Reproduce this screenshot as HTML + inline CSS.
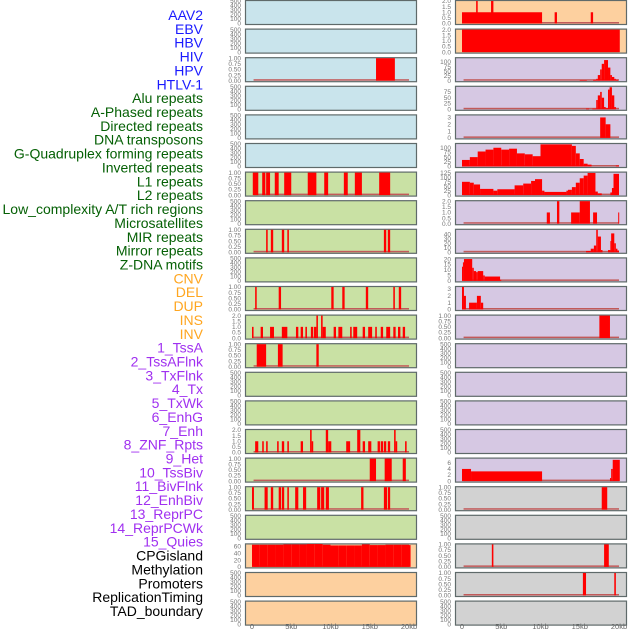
<!DOCTYPE html>
<html><head><meta charset="utf-8"><style>
html,body{margin:0;padding:0;background:#fff;width:630px;height:630px;overflow:hidden}
svg{display:block;font-family:"Liberation Sans",sans-serif}
</style></head><body>
<svg id="chart" width="630" height="630" viewBox="0 0 630 630"></svg>
<script>
const trackLabels=["AAV2","EBV","HBV","HIV","HPV","HTLV-1","Alu repeats","A-Phased repeats","Directed repeats","DNA transposons","G-Quadruplex forming repeats","Inverted repeats","L1 repeats","L2 repeats","Low_complexity A/T rich regions","Microsatellites","MIR repeats","Mirror repeats","Z-DNA motifs","CNV","DEL","DUP","INS","INV","1_TssA","2_TssAFlnk","3_TxFlnk","4_Tx","5_TxWk","6_EnhG","7_Enh","8_ZNF_Rpts","9_Het","10_TssBiv","11_BivFlnk","12_EnhBiv","13_ReprPC","14_ReprPCWk","15_Quies","CPGisland","Methylation","Promoters","ReplicationTiming","TAD_boundary"];
const labelGroups=[6,13,5,15,5];
const xTickValues=[0,5,10,15,20];
const xTickLabels=["0","5kb","10kb","15kb","20kb"];
const ticksEmpty=[0,100,200,300,400,500];
const ticksOne=[0,0.25,0.5,0.75,1];
const ticksTwo=[0,0.5,1,1.5,2];
// bars: [startKb,endKb,value]
const c1r2=[[15.8,18.2,1]];
const c1r6=[[0.1,0.8,1],[1.3,1.7,1],[1.8,2.3,1],[2.9,3.4,1],[4.1,5.0,1],[7.1,8.2,1],[9.2,9.7,1],[11.7,12.2,1],[13.1,14.0,1],[16.2,17.6,1]];
const c1r8=[[1.8,2.0,1],[2.4,2.7,1],[3.8,4.1,1],[4.5,4.7,1],[16.8,17.1,1],[17.3,17.6,1]];
const c1r10=[[0.4,0.6,1],[3.4,3.7,1],[10.1,10.4,1],[11.5,11.8,1],[14.5,14.8,1],[18.0,18.2,1],[18.7,19.0,1]];
const c1r11=[[0,0.2,1],[1.1,1.4,1],[2.3,2.8,1],[3.8,4.5,1],[5.6,5.9,1],[6.2,6.5,1],[6.8,7.0,1],[7.5,7.8,1],[7.9,8.2,1],[8.2,8.4,2],[8.8,9.0,2],[9.0,9.4,1],[10.4,10.7,1],[11.0,11.5,1],[12.5,12.7,1],[12.9,13.4,1],[14.1,14.4,1],[14.8,15.3,1],[15.7,15.9,1],[16.4,16.7,1],[17.1,17.6,1],[18.0,18.3,1],[18.6,18.9,1],[19.2,19.5,1]];
const c1r12=[[0.6,1.8,1],[3.3,3.9,1],[8.2,8.5,1]];
const c1r15=[[0.4,0.8,1],[1.3,1.5,1],[1.8,2.0,1],[3.2,3.4,1],[3.8,4.1,1],[4.5,4.7,1],[6.2,6.5,1],[7.4,7.6,2],[7.6,7.8,1],[9.4,9.7,2],[9.7,10.1,1],[12.0,12.5,1],[13.4,13.8,2],[14.1,14.4,1],[14.8,15.2,1],[16.0,16.3,1],[16.4,16.7,1],[16.8,17.1,1],[17.3,17.6,1],[18.1,18.3,2],[18.3,18.5,1],[19.5,19.7,1]];
const c1r16=[[15.0,15.8,1],[16.9,17.8,1],[19.2,19.6,1]];
const c1r17=[[0,0.25,1],[1.6,2.0,1],[2.4,2.7,1],[3.4,3.7,1],[3.8,4.1,1],[4.5,4.7,1],[5.5,5.9,1],[6.5,6.9,1],[8.3,8.7,1],[8.8,9.2,1],[9.4,9.8,1],[13.9,14.2,1],[16.8,17.2,1],[17.3,17.6,1]];
const c1r19=[[0,1,65],[1,2,65],[2,3,65],[3,4,65],[4,5,66],[5,6,66],[6,7,66],[7,8,67],[8,9,67],[9,10,65],[10,11,63],[11,12,63],[12,13,63],[13,14,63],[14,15,66],[15,16,64],[16,17,64],[17,18,65],[18,19,65],[19,20,65],[20,20.2,64]];
const c2r0=[[0,10.2,1],[1.8,2.0,2],[3.7,4.0,2],[11.8,12.1,1],[16.4,16.7,1]];
const c2r1=[[0,20.1,2]];
const c2r2=[[15.0,15.9,3],[16.7,17.1,5],[17.1,17.3,10],[17.3,17.6,30],[17.6,17.8,60],[17.8,18.1,90],[18.1,18.6,110],[18.6,18.9,70],[18.9,19.1,30],[19.1,19.4,20],[19.4,19.6,10],[19.6,19.9,5]];
const c2r3=[[15.8,16.2,3],[16.6,17.1,3],[17.1,17.3,40],[17.3,17.6,60],[17.6,17.8,75],[17.8,18.1,50],[18.1,18.3,10],[18.3,18.6,5],[18.6,18.8,85],[18.8,19.1,95],[19.1,19.4,60],[19.4,19.6,10]];
const c2r4=[[17.6,18.3,3],[18.3,18.9,2]];
const c2r5=[[0,1,35],[1,2,50],[2,3,80],[3,4,90],[4,5,100],[5,6,90],[6,7,95],[7,8,70],[8,9,65],[9,10,55],[10,14,118],[14,14.5,110],[14.5,15,70],[15,15.5,40],[15.5,16,15],[16,16.5,10],[19.6,20,5]];
const c2r6=[[0,1,75],[1,1.5,70],[1.5,2.3,60],[2.3,4.0,35],[4.0,4.5,25],[4.5,6.7,33],[6.7,7.8,55],[7.8,8.8,65],[8.8,9.3,80],[9.3,10.2,90],[10.2,10.5,25],[10.5,13.3,18],[13.3,13.5,25],[13.5,14,30],[14,14.5,45],[14.5,15,70],[15,15.5,95],[15.5,16,110],[16,17,125],[17,17.3,20],[17.3,17.8,10],[18.9,19.1,15],[19.1,19.3,40],[19.3,20,120]];
const c2r7=[[10.8,11.2,1],[12.1,12.4,2],[13.9,15.0,1],[15.0,16.3,2],[16.7,17.2,1],[19.9,20.0,1]];
const c2r8=[[15.8,16.4,3],[16.4,16.8,8],[16.8,17.1,15],[17.1,17.3,50],[17.3,17.7,35],[17.7,17.9,5],[18.6,18.9,5],[18.9,19.0,25],[19.0,19.4,42],[19.4,19.6,20],[19.6,19.8,8],[19.8,20.0,4]];
const c2r9=[[0,0.12,13],[0.12,0.25,17],[0.25,1.3,20],[1.3,1.5,12],[1.5,1.8,9],[1.8,2.0,8],[2.0,2.7,9],[2.7,2.9,5],[2.9,4.85,4],[4.85,5.0,1]];
const c2r10=[[0,0.25,3.3],[0.25,0.5,2],[0.9,1.9,1],[1.9,2.4,2],[2.4,2.7,1]];
const c2r11=[[17.5,18.85,1]];
const c2r16=[[0,1.15,4],[1.15,10.2,3.2],[18.85,19.0,1],[19.0,19.2,4],[19.2,20.1,7]];
const c2r17=[[17.8,18.5,1]];
const c2r19=[[3.8,4.0,1],[18.1,18.7,1]];
const c2r20=[[15.4,15.8,1],[19.4,19.6,1]];

const BLUE="#c9e4ec",GREEN="#c9e1a4",ORANGE="#fdd09f",PURPLE="#d6c8e3",GREY="#d2d2d2";
// panel specs: [bg, ticks, ymax, bars]
const col1=[[BLUE,ticksEmpty,500,null],[BLUE,ticksEmpty,500,null],[BLUE,ticksOne,1,c1r2],[BLUE,ticksEmpty,500,null],[BLUE,ticksEmpty,500,null],[BLUE,ticksEmpty,500,null],
[GREEN,ticksOne,1,c1r6],[GREEN,ticksEmpty,500,null],[GREEN,ticksOne,1,c1r8],[GREEN,ticksEmpty,500,null],[GREEN,ticksOne,1,c1r10],[GREEN,ticksTwo,2,c1r11],[GREEN,ticksOne,1,c1r12],[GREEN,ticksEmpty,500,null],[GREEN,ticksEmpty,500,null],[GREEN,ticksTwo,2,c1r15],[GREEN,ticksOne,1,c1r16],[GREEN,ticksOne,1,c1r17],[GREEN,ticksEmpty,500,null],
[ORANGE,[0,20,40,60],66,c1r19],[ORANGE,ticksEmpty,500,null],[ORANGE,ticksEmpty,500,null]];
const col2=[[ORANGE,ticksTwo,2,c2r0],[ORANGE,ticksTwo,2,c2r1],[PURPLE,[0,25,50,75,100],120,c2r2],[PURPLE,[0,25,50,75],97,c2r3],[PURPLE,[0,1,2,3],3.3,c2r4],[PURPLE,[0,25,50,75,100],120,c2r5],[PURPLE,[0,25,50,75,100,125],127,c2r6],[PURPLE,ticksTwo,2,c2r7],[PURPLE,[0,10,20,30,40],50,c2r8],[PURPLE,[0,5,10,15,20],20.6,c2r9],[PURPLE,[0,1,2,3],3.3,c2r10],[PURPLE,ticksOne,1,c2r11],
[PURPLE,ticksEmpty,500,null],[PURPLE,ticksEmpty,500,null],[PURPLE,ticksEmpty,500,null],[PURPLE,ticksEmpty,500,null],[PURPLE,[0,2,4,6],7.4,c2r16],[GREY,ticksOne,1,c2r17],[GREY,ticksEmpty,500,null],[GREY,ticksOne,1,c2r19],[GREY,ticksOne,1,c2r20],[GREY,ticksEmpty,500,null]];

const NS="http://www.w3.org/2000/svg";
const svg=document.getElementById("chart");
function mk(tag,attrs,parent){const e=document.createElementNS(NS,tag);for(const k in attrs)e.setAttribute(k,attrs[k]);(parent||svg).appendChild(e);return e;}
function xScale(col,kb){return (col===0?252:462)+kb*7.85;}
const groupColors=["#1a1aff","#056005","#ffa620","#a030f0","#000000"];
let gi=0,cnt=0;
trackLabels.forEach((t,i)=>{
  while(cnt>=labelGroups[gi]){cnt-=labelGroups[gi];gi++;}
  cnt++;
  const e=mk("text",{x:203,y:20+i*13.86,"text-anchor":"end","font-size":"14",fill:groupColors[gi]});
  
  
  e.textContent=t;
});
function fmt(v,ticks){const dec=ticks.some(x=>x%1!==0)||ticks[ticks.length-1]===1;if(!dec)return String(v);const two=ticks.some(x=>(x*4)%2===1);return v.toFixed(two?2:1);}
[col1,col2].forEach((col,ci)=>{
  const px=ci===0?245:455,pw=171;
  col.forEach((p,ri)=>{
    const top=ri*28.6,h=24;
    const g=mk("g",{});
    
    
    const r=mk("rect",{x:px+0.5,y:top+0.5,width:pw,height:h,fill:p[0],stroke:"#5f6a6a","stroke-width":1.2},g);
    
    
    const y0=top+h-0.5,yh=h-1.5;
    const ys=v=>y0-v/p[2]*yh;
    p[1].forEach(tv=>{
      const tt=mk("text",{x:px-4,y:ys(tv)+2.2,"text-anchor":"end","font-size":"6.5",fill:"#777"},g);
      
      
      tt.textContent=fmt(tv,p[1]);
    });
    if(p[3]){
      const bl=mk("rect",{x:xScale(ci,0.2),y:y0-1.5,width:xScale(ci,20)-xScale(ci,0.2),height:1.5,fill:"#c25a5a"},g);
      
      
      p[3].forEach(b=>{
        const x1=xScale(ci,b[0]),x2=xScale(ci,b[1]);
        const br=mk("rect",{x:x1,y:ys(b[2]),width:Math.max(1,x2-x1),height:y0-ys(b[2]),fill:"#ff0000"},g);
        
        
      });
    }
  });
  xTickValues.forEach((v,i)=>{
    const t=mk("text",{x:xScale(ci,v),y:629,"text-anchor":"middle","font-size":"7.5",fill:"#666"});
    
    
    t.textContent=xTickLabels[i];
  });
});
</script>
</body></html>
